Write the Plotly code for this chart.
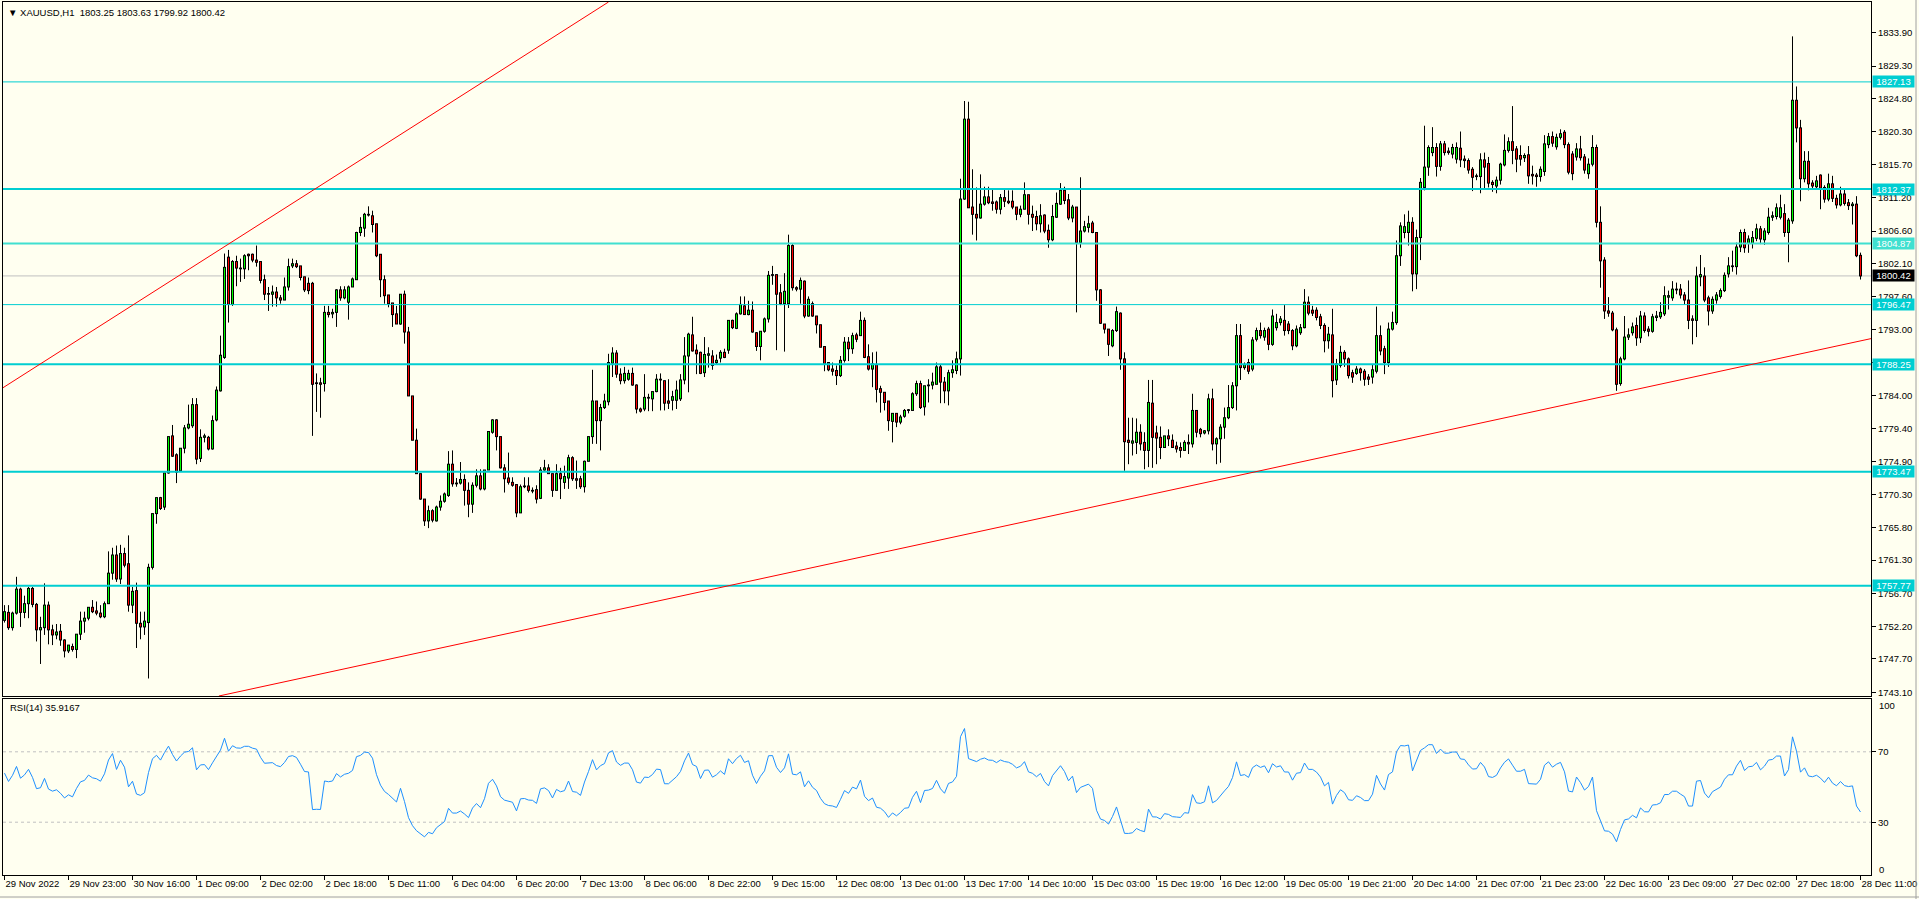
import plotly.graph_objects as go

# ---------------- data ----------------
opens = [
1753.0,1754.1,1752.0,1754.0,1757.3,1754.1,1755.3,1757.4,1755.2,1751.7,
1752.0,1755.1,1751.7,1751.0,1751.5,1750.3,1748.8,1749.4,1749.0,1751.1,
1752.9,1753.3,1754.8,1754.3,1754.0,1753.5,1755.3,1759.5,1762.0,1758.7,
1762.2,1760.8,1755.1,1757.1,1752.6,1752.1,1752.7,1760.3,1767.7,1769.9,
1768.6,1773.3,1778.4,1775.8,1773.6,1776.7,1779.5,1779.8,1782.7,1775.3,
1778.2,1778.2,1776.6,1780.6,1784.6,1789.2,1803.0,1796.5,1802.4,1801.5,
1801.4,1803.4,1803.4,1802.6,1802.4,1799.9,1798.0,1797.9,1798.2,1797.4,
1797.1,1798.9,1801.8,1802.1,1801.8,1800.3,1799.4,1799.4,1785.7,1785.7,
1785.6,1795.4,1795.2,1795.4,1798.5,1797.4,1796.8,1798.9,1799.9,1806.4,
1807.0,1808.9,1808.7,1807.6,1803.4,1799.9,1797.8,1796.7,1795.2,1793.8,
1797.9,1792.7,1783.9,1777.8,1773.2,1769.7,1766.7,1768.1,1766.7,1768.6,
1769.4,1770.2,1774.5,1771.9,1771.9,1772.4,1770.9,1769.0,1771.6,1772.9,
1771.1,1773.7,1778.9,1780.6,1778.3,1774.0,1772.6,1772.0,1771.7,1767.8,
1771.4,1771.5,1770.9,1771.0,1769.8,1773.7,1774.0,1773.2,1770.9,1773.2,
1772.0,1772.6,1775.4,1772.5,1772.5,1771.4,1774.9,1778.3,1783.2,1780.5,
1782.3,1783.1,1788.4,1789.8,1786.9,1786.0,1786.2,1787.0,1785.4,1782.1,
1782.1,1783.7,1783.5,1784.5,1786.2,1786.0,1783.2,1783.3,1783.3,1783.5,
1786.1,1789.4,1792.3,1790.2,1789.9,1787.1,1789.5,1789.4,1788.5,1789.1,
1789.9,1790.2,1794.3,1793.2,1795.2,1796.3,1795.1,1795.7,1792.6,1790.7,
1792.8,1794.5,1800.5,1800.6,1798.1,1796.6,1796.6,1804.6,1798.8,1798.6,
1799.7,1794.9,1796.6,1794.9,1793.7,1790.7,1788.5,1787.6,1787.4,1786.7,
1788.8,1791.3,1790.4,1792.3,1792.2,1794.3,1789.3,1787.6,1788.2,1784.9,
1784.4,1783.2,1780.4,1781.5,1780.3,1781.1,1781.9,1781.9,1784.2,1785.6,
1782.4,1785.3,1785.4,1785.5,1787.9,1785.8,1784.6,1787.1,1787.4,1789.0,
1811.0,1822.0,1809.9,1808.9,1808.4,1810.3,1811.3,1810.6,1810.6,1809.6,
1811.2,1810.7,1810.7,1809.9,1808.9,1809.6,1811.6,1808.9,1808.6,1807.6,
1808.8,1806.7,1805.4,1808.5,1810.3,1812.2,1810.9,1808.4,1809.9,1805.0,
1806.6,1807.1,1807.7,1806.4,1798.5,1793.8,1793.1,1790.8,1792.9,1795.3,
1789.0,1777.8,1777.4,1777.5,1778.9,1777.5,1776.4,1782.9,1778.8,1778.2,
1776.8,1778.4,1777.8,1777.0,1776.8,1776.4,1777.5,1777.3,1781.9,1779.3,
1778.8,1779.1,1783.5,1777.3,1778.0,1779.6,1780.9,1782.3,1785.3,1792.2,
1787.8,1788.5,1787.6,1791.7,1792.9,1792.0,1793.1,1791.0,1793.3,1794.0,
1794.3,1793.8,1792.9,1790.8,1792.6,1793.3,1796.8,1795.7,1795.7,1794.8,
1793.6,1791.5,1792.3,1786.1,1788.1,1789.9,1789.0,1787.1,1787.0,1787.6,
1787.3,1786.5,1786.5,1787.3,1792.2,1790.4,1788.5,1793.1,1794.0,1803.2,
1806.4,1806.4,1807.8,1800.7,1805.7,1812.6,1815.4,1817.4,1818.1,1815.5,
1818.6,1817.6,1817.2,1816.5,1818.0,1816.5,1816.3,1815.1,1814.2,1814.1,
1816.4,1815.9,1813.3,1812.8,1813.6,1815.7,1817.7,1818.9,1817.9,1817.0,
1816.7,1817.1,1814.4,1814.3,1814.1,1814.8,1818.5,1819.6,1818.2,1819.5,
1820.2,1818.5,1817.2,1816.8,1817.9,1816.8,1814.5,1815.8,1818.1,1807.8,
1802.6,1795.6,1795.3,1793.0,1785.6,1789.0,1792.0,1792.6,1793.6,1791.9,
1794.9,1793.1,1792.8,1794.7,1794.8,1795.2,1797.5,1797.4,1798.5,1798.6,
1797.8,1797.1,1794.5,1794.3,1800.3,1800.4,1797.4,1795.6,1797.1,1797.6,
1798.4,1800.7,1801.7,1801.7,1804.4,1806.4,1804.9,1804.9,1805.6,1806.9,
1805.4,1806.4,1808.5,1808.6,1808.5,1809.0,1806.4,1808.0,1824.6,1820.8,
1813.8,1816.2,1813.2,1812.7,1814.3,1812.6,1811.0,1813.1,1811.1,1810.2,
1811.7,1810.5,1810.1,1810.3,1803.25]

highs = [
1755.1,1755.1,1754.2,1759.0,1757.5,1756.4,1757.6,1757.6,1755.4,1753.5,
1758.1,1755.6,1752.4,1752.5,1752.5,1750.4,1749.6,1749.8,1751.1,1754.2,
1754.2,1754.8,1755.8,1755.6,1755.1,1755.6,1762.5,1763.0,1763.3,1763.4,
1763.0,1764.7,1757.6,1758.2,1754.2,1754.2,1760.8,1767.7,1769.9,1770.0,
1773.3,1778.3,1779.9,1776.0,1776.7,1779.9,1782.7,1783.6,1783.6,1779.3,
1778.7,1778.4,1781.2,1785.2,1792.2,1803.5,1804.0,1802.6,1803.2,1802.8,
1803.4,1803.5,1803.5,1804.6,1802.4,1800.6,1798.9,1799.1,1798.9,1797.8,
1800.2,1802.8,1802.8,1802.6,1801.8,1800.3,1800.2,1799.6,1787.0,1786.4,
1796.3,1796.3,1795.9,1798.6,1799.0,1799.0,1799.1,1800.2,1806.5,1808.5,
1809.1,1810.0,1809.4,1807.6,1803.4,1800.5,1797.8,1796.7,1796.3,1797.9,
1798.4,1793.4,1783.9,1779.4,1773.2,1769.7,1768.8,1768.3,1768.8,1770.2,
1770.6,1776.3,1776.4,1772.6,1774.8,1773.1,1772.0,1772.0,1773.8,1773.8,
1773.7,1779.0,1780.7,1780.7,1778.3,1774.5,1776.1,1772.7,1771.7,1771.7,
1772.7,1772.7,1771.3,1771.6,1774.1,1775.1,1774.5,1773.2,1774.5,1774.0,
1774.3,1775.8,1775.6,1775.0,1772.9,1775.0,1778.3,1787.5,1783.2,1782.8,
1784.2,1789.7,1790.6,1790.2,1787.7,1787.9,1787.5,1787.8,1785.5,1782.3,
1786.9,1784.2,1784.5,1786.9,1787.0,1786.0,1786.2,1784.6,1786.0,1786.9,
1792.0,1792.6,1794.8,1791.0,1790.0,1792.0,1790.6,1790.2,1789.6,1790.2,
1790.4,1794.3,1794.4,1795.4,1797.6,1797.6,1797.0,1796.9,1792.7,1792.8,
1794.7,1801.1,1801.8,1800.6,1799.3,1800.8,1806.1,1804.8,1799.0,1800.2,
1799.8,1797.6,1796.9,1794.9,1793.7,1790.7,1788.5,1788.5,1788.1,1789.4,
1792.0,1792.0,1792.6,1792.6,1795.5,1794.7,1791.0,1789.9,1790.0,1785.3,
1784.4,1783.2,1781.5,1781.5,1781.3,1782.1,1782.1,1784.4,1786.0,1786.0,
1785.3,1786.2,1787.1,1788.5,1788.3,1786.5,1787.5,1788.8,1790.0,1813.8,
1824.5,1824.4,1815.1,1812.6,1814.4,1812.7,1812.7,1812.4,1810.8,1811.7,
1812.5,1812.2,1812.2,1809.9,1810.1,1813.3,1811.6,1810.1,1809.4,1810.3,
1808.9,1807.5,1810.2,1811.9,1813.2,1812.7,1811.7,1810.2,1809.9,1814.0,
1808.0,1808.7,1808.0,1806.4,1798.6,1793.8,1793.1,1793.1,1796.2,1795.4,
1789.9,1780.9,1780.9,1780.8,1780.0,1778.9,1786.1,1786.1,1779.8,1779.7,
1778.4,1779.3,1778.6,1777.6,1777.5,1777.8,1778.6,1784.2,1781.9,1779.5,
1779.2,1784.2,1784.9,1778.2,1780.0,1782.3,1785.4,1785.8,1793.8,1793.8,
1788.5,1789.0,1792.0,1793.3,1794.0,1793.3,1793.4,1795.8,1795.2,1794.9,
1796.4,1794.2,1793.1,1793.6,1793.8,1798.6,1797.6,1796.3,1796.1,1795.2,
1793.9,1793.4,1795.9,1789.0,1790.8,1790.2,1789.2,1787.5,1788.0,1787.8,
1787.6,1786.9,1788.2,1796.2,1793.6,1790.8,1794.0,1795.5,1805.3,1807.8,
1808.9,1809.4,1808.5,1806.8,1813.9,1821.1,1818.4,1820.9,1818.7,1819.0,
1819.0,1818.1,1818.6,1818.8,1820.3,1817.0,1816.6,1815.4,1814.5,1817.3,
1817.4,1816.8,1813.6,1814.1,1816.0,1819.9,1819.5,1823.8,1818.3,1818.4,
1817.3,1818.3,1815.6,1814.6,1815.5,1819.8,1820.1,1820.3,1820.0,1820.6,
1820.5,1818.8,1817.6,1818.7,1819.7,1817.2,1816.6,1819.8,1818.5,1810.0,
1803.0,1797.5,1795.6,1793.3,1789.3,1794.9,1793.2,1794.0,1794.7,1795.6,
1795.4,1793.5,1795.2,1795.6,1796.8,1799.0,1798.4,1799.7,1799.5,1799.3,
1798.2,1799.8,1795.0,1801.7,1803.3,1801.6,1797.7,1797.6,1798.2,1798.7,
1800.9,1803.0,1803.9,1805.0,1806.8,1806.9,1806.0,1806.6,1807.6,1807.3,
1807.0,1809.8,1809.3,1810.4,1811.6,1810.3,1808.4,1833.4,1826.5,1821.9,
1817.6,1817.6,1813.6,1814.2,1814.4,1812.9,1814.5,1814.2,1811.6,1812.7,
1812.5,1811.0,1810.6,1811.4,1803.63]

lows = [
1752.7,1751.7,1751.6,1753.8,1752.1,1753.3,1753.3,1754.8,1750.1,1747.0,
1751.0,1749.7,1749.6,1750.4,1749.5,1747.9,1748.5,1748.7,1747.8,1750.3,
1751.3,1753.0,1754.0,1753.7,1753.3,1753.3,1755.3,1758.6,1758.3,1758.0,
1760.3,1754.2,1754.0,1749.2,1750.4,1751.0,1745.0,1760.0,1766.3,1768.2,
1768.2,1773.2,1775.5,1771.9,1773.5,1776.0,1779.3,1779.5,1774.5,1774.8,
1777.5,1776.4,1776.5,1780.4,1784.5,1789.0,1794.0,1796.3,1799.0,1799.6,
1800.0,1801.2,1802.3,1801.7,1799.4,1797.1,1795.6,1796.2,1796.2,1796.6,
1797.1,1798.4,1801.5,1801.5,1799.8,1798.2,1797.9,1778.4,1781.7,1780.9,
1784.5,1794.7,1794.6,1793.4,1797.0,1797.2,1794.4,1798.9,1799.9,1805.9,
1805.8,1808.6,1806.4,1803.0,1797.5,1796.6,1796.1,1793.4,1793.8,1793.7,
1791.1,1783.9,1777.8,1773.2,1769.6,1766.0,1765.7,1766.5,1766.6,1768.1,
1769.2,1770.0,1771.4,1771.4,1771.7,1768.8,1767.2,1767.8,1771.3,1770.9,
1770.9,1773.7,1778.7,1776.4,1773.9,1770.6,1771.7,1771.4,1767.2,1767.8,
1771.2,1770.6,1770.5,1769.1,1769.7,1773.6,1773.2,1770.0,1770.9,1769.7,
1771.1,1771.1,1772.2,1771.1,1771.1,1770.6,1774.9,1777.3,1777.3,1776.4,
1782.1,1782.6,1786.5,1786.4,1785.5,1785.6,1786.0,1785.3,1781.5,1781.6,
1781.8,1781.8,1781.8,1784.4,1781.9,1781.9,1782.1,1781.9,1782.1,1783.2,
1785.5,1784.4,1790.0,1786.9,1786.9,1786.5,1787.8,1787.5,1788.2,1788.5,
1789.1,1789.7,1793.1,1793.1,1795.1,1795.1,1795.0,1792.6,1790.1,1788.8,
1792.6,1794.0,1799.2,1790.2,1796.4,1790.0,1796.0,1798.4,1798.3,1796.6,
1794.6,1794.8,1794.8,1792.5,1790.6,1787.3,1787.3,1786.7,1785.4,1786.5,
1788.5,1788.7,1789.7,1791.3,1792.2,1789.1,1787.4,1785.1,1783.0,1781.6,
1781.9,1779.1,1777.5,1779.6,1780.0,1780.9,1781.5,1781.9,1783.9,1782.1,
1781.2,1783.0,1784.8,1785.5,1782.9,1782.9,1782.6,1786.4,1786.9,1786.7,
1810.9,1809.8,1806.1,1805.3,1808.3,1810.1,1810.3,1809.4,1809.0,1808.9,
1809.9,1810.3,1809.6,1808.1,1808.5,1809.6,1807.5,1806.6,1806.7,1806.4,
1806.3,1804.3,1805.2,1808.4,1810.2,1810.3,1808.1,1807.8,1795.4,1804.3,
1806.4,1806.4,1806.3,1797.0,1793.8,1792.5,1789.4,1790.6,1792.7,1787.5,
1773.6,1774.5,1775.7,1775.9,1776.4,1773.8,1774.1,1774.0,1774.5,1775.2,
1776.8,1777.0,1776.8,1776.1,1775.4,1776.4,1775.9,1776.8,1778.2,1778.2,
1778.6,1778.6,1776.4,1774.5,1774.7,1778.0,1780.7,1782.1,1781.9,1786.1,
1787.5,1786.9,1787.3,1791.4,1791.8,1791.5,1790.2,1790.8,1792.9,1793.6,
1792.2,1792.4,1790.2,1790.6,1792.3,1793.2,1795.0,1794.9,1794.3,1793.1,
1789.9,1790.4,1783.7,1785.4,1787.8,1787.9,1786.3,1785.7,1786.8,1786.0,
1785.3,1785.4,1785.6,1787.0,1789.5,1786.9,1787.9,1792.9,1793.7,1801.8,
1805.6,1804.6,1798.3,1798.6,1802.6,1812.2,1814.2,1816.9,1814.1,1814.9,
1817.0,1817.1,1816.6,1815.9,1815.4,1815.3,1814.5,1812.1,1813.6,1811.8,
1812.4,1812.6,1812.0,1811.8,1813.0,1815.5,1817.4,1815.8,1814.7,1815.6,
1816.1,1813.1,1813.0,1812.7,1813.4,1814.2,1818.0,1818.2,1817.8,1819.2,
1818.0,1814.4,1813.6,1816.3,1816.3,1814.5,1813.8,1815.5,1807.1,1798.8,
1794.5,1794.8,1792.8,1784.6,1785.3,1788.8,1791.6,1792.2,1790.8,1791.2,
1792.6,1792.1,1792.6,1794.2,1794.5,1794.9,1795.8,1797.0,1797.9,1797.3,
1796.5,1793.1,1791.0,1792.0,1799.0,1796.8,1793.6,1795.2,1796.6,1797.3,
1798.2,1800.2,1801.0,1800.6,1803.7,1803.6,1803.6,1804.2,1805.2,1804.8,
1804.7,1806.1,1808.0,1808.2,1808.2,1805.8,1802.3,1807.6,1818.8,1810.7,
1813.3,1812.2,1812.4,1812.3,1809.6,1810.5,1810.7,1810.6,1809.7,1810.0,
1810.1,1809.5,1807.5,1803.0,1799.92]

closes = [
1754.2,1752.0,1754.0,1757.3,1754.1,1755.3,1757.4,1755.2,1751.7,1752.0,
1755.1,1751.7,1751.0,1751.4,1750.3,1748.8,1749.6,1749.0,1751.1,1752.9,
1753.3,1754.8,1754.2,1754.0,1753.5,1755.3,1759.5,1762.0,1758.7,1762.2,
1760.6,1755.1,1757.0,1752.6,1752.1,1752.9,1760.3,1767.7,1769.9,1768.4,
1773.3,1778.3,1775.6,1773.4,1776.7,1779.5,1780.0,1782.7,1775.2,1778.2,
1778.4,1776.6,1780.5,1784.7,1789.5,1801.6,1796.5,1802.4,1801.5,1801.4,
1803.2,1803.2,1802.6,1802.3,1799.8,1797.9,1797.9,1798.2,1797.4,1797.1,
1798.9,1801.7,1802.1,1801.7,1800.2,1798.5,1798.4,1785.5,1785.6,1785.5,
1795.4,1795.1,1795.4,1798.5,1797.4,1798.5,1798.9,1800.0,1806.4,1807.1,
1808.9,1808.8,1807.5,1803.2,1799.9,1797.7,1796.6,1795.1,1793.8,1797.9,
1792.7,1783.9,1777.8,1773.2,1769.7,1766.7,1768.1,1766.8,1768.6,1769.4,
1770.4,1774.5,1771.8,1771.8,1772.4,1770.9,1769.0,1771.6,1772.9,1771.1,
1773.7,1779.0,1780.6,1778.3,1774.0,1772.5,1772.0,1771.6,1767.8,1771.4,
1771.5,1770.9,1770.8,1769.7,1773.7,1774.0,1773.2,1770.9,1773.2,1772.5,
1772.8,1775.4,1772.5,1772.3,1771.4,1774.9,1778.3,1783.2,1780.5,1782.3,
1783.2,1788.5,1789.8,1786.9,1786.0,1787.0,1787.0,1785.4,1782.1,1781.8,
1783.7,1783.6,1784.5,1786.2,1786.1,1782.9,1782.9,1783.8,1784.7,1786.1,
1789.4,1792.4,1790.1,1789.7,1787.0,1789.6,1789.7,1788.1,1788.8,1789.9,
1789.2,1794.3,1793.3,1795.2,1796.5,1795.1,1795.7,1792.7,1790.7,1792.8,
1794.5,1800.5,1800.6,1797.9,1796.6,1798.3,1804.6,1798.8,1798.6,1799.8,
1794.9,1797.2,1794.9,1793.7,1790.6,1788.3,1787.5,1787.3,1786.7,1788.8,
1791.3,1790.4,1792.2,1791.7,1794.3,1789.2,1787.6,1788.3,1784.8,1784.4,
1783.0,1780.5,1781.5,1780.3,1781.0,1781.9,1782.0,1784.2,1785.6,1782.3,
1785.3,1785.4,1785.8,1787.9,1785.8,1784.6,1787.1,1787.5,1789.0,1811.0,
1822.0,1809.8,1808.9,1808.4,1810.3,1811.3,1810.5,1810.4,1809.6,1811.2,
1810.7,1810.5,1809.9,1808.9,1809.6,1811.6,1808.9,1808.5,1807.6,1808.7,
1806.6,1805.4,1808.6,1810.4,1812.2,1810.8,1808.4,1809.9,1805.0,1806.6,
1807.2,1807.6,1806.4,1798.5,1793.9,1793.1,1791.0,1792.9,1795.5,1789.0,
1777.6,1777.5,1777.7,1778.9,1777.3,1776.4,1783.0,1778.2,1778.1,1776.8,
1778.4,1778.0,1776.8,1776.6,1776.4,1777.5,1777.3,1781.9,1778.9,1778.7,
1779.1,1783.5,1777.3,1778.0,1779.6,1780.9,1782.3,1785.3,1792.2,1787.8,
1788.2,1787.3,1791.6,1792.9,1792.2,1792.9,1791.0,1794.9,1794.0,1794.5,
1792.9,1792.9,1790.8,1793.1,1793.3,1796.8,1795.3,1795.3,1794.7,1793.6,
1791.5,1792.4,1786.0,1788.3,1789.9,1789.0,1786.7,1786.5,1787.6,1787.1,
1786.2,1786.2,1787.5,1792.2,1790.1,1788.5,1793.1,1794.0,1803.2,1807.3,
1807.2,1807.8,1800.7,1805.7,1813.3,1815.4,1818.1,1818.1,1815.5,1818.6,
1817.4,1817.4,1818.1,1818.1,1816.4,1816.3,1815.0,1814.0,1814.1,1816.4,
1815.4,1813.2,1813.0,1813.6,1815.8,1817.7,1818.9,1817.7,1816.5,1816.5,
1817.0,1814.2,1814.2,1814.1,1815.1,1818.6,1819.6,1818.7,1819.5,1820.0,
1818.5,1814.7,1814.5,1817.9,1816.7,1815.0,1815.8,1818.1,1807.8,1802.5,
1795.6,1795.3,1793.0,1785.5,1789.0,1792.0,1792.3,1793.4,1791.9,1794.9,
1792.9,1792.8,1794.8,1794.9,1795.4,1797.7,1797.7,1798.6,1798.6,1797.8,
1797.1,1794.3,1794.3,1800.4,1800.6,1797.1,1795.6,1797.2,1797.8,1798.4,
1800.5,1801.8,1801.8,1804.4,1806.4,1804.3,1805.5,1805.7,1806.9,1805.5,
1806.6,1808.5,1808.7,1809.8,1809.8,1806.4,1808.1,1824.6,1820.8,1813.8,
1816.2,1813.1,1812.8,1813.5,1812.5,1811.0,1813.1,1811.1,1810.2,1811.7,
1810.4,1810.1,1810.3,1803.2,1800.42]

time_labels = ["29 Nov 2022", "29 Nov 23:00", "30 Nov 16:00", "1 Dec 09:00", "2 Dec 02:00",
               "2 Dec 18:00", "5 Dec 11:00", "6 Dec 04:00", "6 Dec 20:00", "7 Dec 13:00",
               "8 Dec 06:00", "8 Dec 22:00", "9 Dec 15:00", "12 Dec 08:00", "13 Dec 01:00",
               "13 Dec 17:00", "14 Dec 10:00", "15 Dec 03:00", "15 Dec 19:00", "16 Dec 12:00",
               "19 Dec 05:00", "19 Dec 21:00", "20 Dec 14:00", "21 Dec 07:00", "21 Dec 23:00",
               "22 Dec 16:00", "23 Dec 09:00", "27 Dec 02:00", "27 Dec 18:00", "28 Dec 11:00"]
time_label_bars = [0, 16, 32, 48, 64, 80, 96, 112, 128, 144, 160, 176, 192, 208, 224,
                   240, 256, 272, 288, 304, 320, 336, 352, 368, 384, 400, 416, 432, 448, 464]

price_ticks = [1833.90, 1829.30, 1824.80, 1820.30, 1815.70, 1811.20, 1806.60, 1802.10,
               1797.60, 1793.00, 1788.50, 1784.00, 1779.40, 1774.90, 1770.30, 1765.80,
               1761.30, 1756.70, 1752.20, 1747.70, 1743.10]

level_values = [1827.13, 1812.37, 1804.87, 1796.47, 1788.25, 1773.47, 1757.77]
level_widths = [1, 2, 2, 1, 2, 2, 2]
level_colors = ["#00CED1", "#00CED1", "#40E0D0", "#00CED1", "#00CED1", "#00CED1", "#00CED1"]
last_price = 1800.42

trend_upper = [(-0.375, 1785.03), (151.0, 1838.13)]
trend_lower = [(53.6, 1742.59), (466.625, 1791.79)]

rsi_period = 14
rsi_seed_gain, rsi_seed_loss = 1.1, 0.8
rsi_levels = [70, 30]

title_text = "\u25BC XAUUSD,H1 \u00a01803.25 1803.63 1799.92 1800.42"
rsi_text = "RSI(14) 35.9167"

# ---------------- geometry / style ----------------
FONT = "Liberation Sans, Arial, sans-serif"
BG = "#FFFFF0"
UP_COL, DOWN_COL = "#00FF00", "#FF0000"
W, H = 1919, 899
ML, MR, MT, MB = 3, 48, 2, 24
XR = [-0.375, 466.625]
YR = [1742.59, 1838.13]
main_dom = [(875 - 696) / 873, 1.0]
rsi_dom = [0.0, (875 - 699) / 873]
PX_PER_PRICE = (696 - 2) / (YR[1] - YR[0])
one_px = 1.0 / PX_PER_PRICE

# ---------------- derived ----------------
bars = list(range(len(closes)))

def wilder_rsi(vals, n, g0, l0):
    ag, al = g0, l0
    out = []
    for i, c in enumerate(vals):
        if i > 0:
            d = c - vals[i - 1]
            ag = (ag * (n - 1) + max(d, 0.0)) / n
            al = (al * (n - 1) + max(-d, 0.0)) / n
        out.append(100.0 - 100.0 / (1.0 + ag / al) if al > 0 else 100.0)
    return out

rsi_vals = wilder_rsi(closes, rsi_period, rsi_seed_gain, rsi_seed_loss)

wick_x, wick_y = [], []
body_x, body_y = [], []
up_x, up_y, dn_x, dn_y = [], [], [], []
for i, (o, h, l, c) in enumerate(zip(opens, highs, lows, closes)):
    wick_x += [i, i, None]
    wick_y += [l, h, None]
    lo, hi = min(o, c), max(o, c)
    body_x += [i, i, None]
    body_y += [lo - 0.5 * one_px, hi + 0.5 * one_px, None]
    if hi - lo > 1.3 * one_px:
        tx, ty = (up_x, up_y) if c >= o else (dn_x, dn_y)
        tx += [i, i, None]
        ty += [lo + 0.5 * one_px, hi - 0.5 * one_px, None]

# ---------------- figure ----------------
fig = go.Figure()
fig.add_trace(go.Scatter(x=wick_x, y=wick_y, mode="lines", line=dict(color="black", width=1),
                         xaxis="x", yaxis="y", hoverinfo="skip", showlegend=False))
fig.add_trace(go.Scatter(x=body_x, y=body_y, mode="lines", line=dict(color="black", width=3),
                         xaxis="x", yaxis="y", hoverinfo="skip", showlegend=False))
fig.add_trace(go.Scatter(x=up_x, y=up_y, mode="lines", line=dict(color=UP_COL, width=1),
                         xaxis="x", yaxis="y", hoverinfo="skip", showlegend=False))
fig.add_trace(go.Scatter(x=dn_x, y=dn_y, mode="lines", line=dict(color=DOWN_COL, width=1),
                         xaxis="x", yaxis="y", hoverinfo="skip", showlegend=False))
fig.add_trace(go.Scatter(
    x=bars, y=rsi_vals, mode="lines", line=dict(color="#1E90FF", width=1),
    xaxis="x2", yaxis="y2", hoverinfo="skip", showlegend=False))

shapes = []
annotations = []
shapes.append(dict(type="line", xref="paper", x0=0, x1=1, yref="y", y0=last_price, y1=last_price,
                   line=dict(color="#C0C0C0", width=1), layer="below"))
for v, w, c in zip(level_values, level_widths, level_colors):
    shapes.append(dict(type="line", xref="paper", x0=0, x1=1, yref="y", y0=v, y1=v,
                       line=dict(color=c, width=w), layer="above"))
    annotations.append(dict(xref="paper", x=1, xanchor="left", xshift=1, yref="y", y=v,
                            yanchor="middle", text=f"{v:.2f}", showarrow=False,
                            bgcolor=c, font=dict(family=FONT, size=9.5, color="white"),
                            width=39, height=9, borderpad=1, align="center"))
annotations.append(dict(xref="paper", x=1, xanchor="left", xshift=1, yref="y", y=last_price,
                        yanchor="middle", text=f"{last_price:.2f}", showarrow=False,
                        bgcolor="black", font=dict(family=FONT, size=9.5, color="white"),
                        width=39, height=9, borderpad=1, align="center"))
for (p0, p1) in (trend_upper, trend_lower):
    shapes.append(dict(type="line", xref="x", yref="y", x0=p0[0], y0=p0[1], x1=p1[0], y1=p1[1],
                       line=dict(color="#FF0000", width=1), layer="above"))
for lv in rsi_levels:
    shapes.append(dict(type="line", xref="paper", x0=0, x1=1, yref="y2", y0=lv, y1=lv,
                       line=dict(color="#C0C0C0", width=1, dash="3px,3px"), layer="below"))
shapes.append(dict(type="line", xref="paper", yref="paper", x0=(1916 - ML) / 1868, x1=(1916 - ML) / 1868,
                   y0=(875 + 24) / 873, y1=-24 / 873, line=dict(color="#A0A0A0", width=1)))
shapes.append(dict(type="line", xref="paper", yref="paper", x0=-ML / 1868, x1=(1919 - ML) / 1868,
                   y0=(875 - 897) / 873, y1=(875 - 897) / 873, line=dict(color="#A0A0A0", width=1)))

annotations.append(dict(xref="paper", yref="paper", x=0, y=1, xanchor="left", yanchor="top",
                        xshift=3, yshift=-3, text=title_text, showarrow=False,
                        font=dict(family=FONT, size=9.5, color="black")))
annotations.append(dict(xref="paper", yref="y2 domain", x=0, y=1, xanchor="left", yanchor="top",
                        xshift=5, yshift=-1, text=rsi_text, showarrow=False,
                        font=dict(family=FONT, size=9.5, color="black")))
annotations.append(dict(xref="paper", yref="y2", x=1, y=100, xanchor="left", yanchor="middle",
                        xshift=6, yshift=-6, text="100", showarrow=False,
                        font=dict(family=FONT, size=9.5, color="black")))
annotations.append(dict(xref="paper", yref="y2", x=1, y=0, xanchor="left", yanchor="middle",
                        xshift=6, yshift=6, text="0", showarrow=False,
                        font=dict(family=FONT, size=9.5, color="black")))

axis_common = dict(showgrid=False, zeroline=False, showline=True, linecolor="black",
                   linewidth=1, mirror=True)

fig.update_layout(
    width=W, height=H, autosize=False,
    margin=dict(l=ML, r=MR, t=MT, b=MB, pad=0),
    paper_bgcolor=BG, plot_bgcolor=BG,
    font=dict(family=FONT, size=9.5, color="black"),
    showlegend=False, hovermode=False,
    shapes=shapes, annotations=annotations,
    xaxis=dict(domain=[0, 1], anchor="y", range=XR, showticklabels=False,
               ticks="", **axis_common),
    xaxis2=dict(domain=[0, 1], anchor="y2", matches="x", range=XR,
                tickmode="array", tickvals=time_label_bars, ticktext=time_labels,
                ticks="outside", ticklen=4, tickcolor="black", tickangle=0,
                ticklabelposition="outside right",
                tickfont=dict(family=FONT, size=9.5, color="black"), **axis_common),
    yaxis=dict(domain=main_dom, anchor="x", range=YR, side="right",
               tickmode="array", tickvals=price_ticks, tickformat=".2f",
               ticks="outside", ticklen=4, tickcolor="black",
               tickfont=dict(family=FONT, size=9.5, color="black"), **axis_common),
    yaxis2=dict(domain=rsi_dom, anchor="x2", range=[0, 100], side="right",
                tickmode="array", tickvals=[70, 30], ticks="outside", ticklen=4,
                tickcolor="black", tickfont=dict(family=FONT, size=9.5, color="black"),
                **axis_common),
)

fig.write_html("out.html", config={"displayModeBar": False},
               post_script="document.body.style.margin='0';document.body.style.overflow='hidden';")
